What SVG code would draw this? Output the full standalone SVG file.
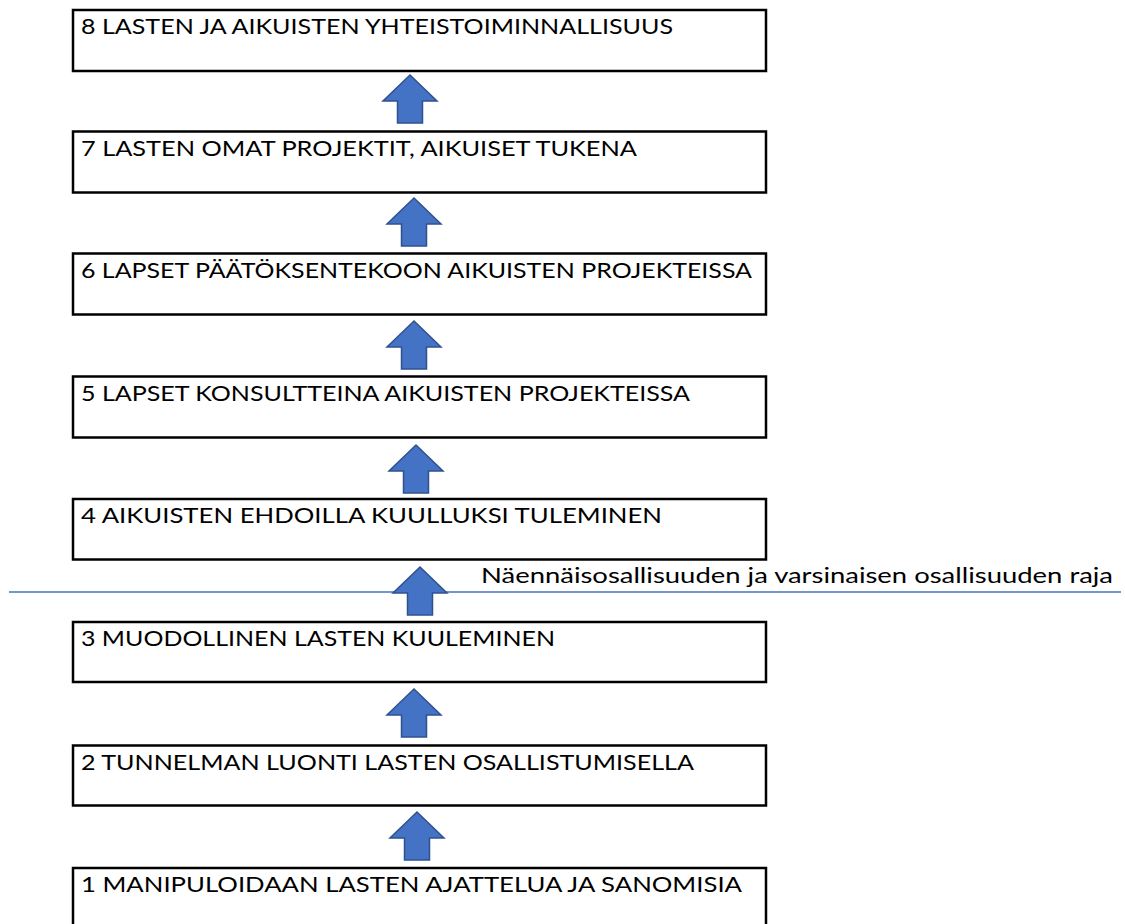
<svg xmlns="http://www.w3.org/2000/svg" width="1125" height="924" viewBox="0 0 1125 924">
<style>
.box{fill:#fff;stroke:#000;stroke-width:2.5}
.t{font-family:Lato,"Open Sans","Liberation Sans",sans-serif;font-size:22px;fill:#000}
.arr{fill:#4472C4;stroke:#2F528F;stroke-width:1.5;stroke-linejoin:miter}
.lim{stroke:#4472C4;stroke-width:1.5;fill:none}
</style>
<defs>
<polygon id="up" points="0,0 27,26 12.5,26 12.5,48 -12.5,48 -12.5,26 -27,26"/>
</defs>
<rect width="1125" height="924" fill="#fff"/>
<g id="node8"><rect class="box" x="73" y="10" width="693" height="61"/><text class="t" x="81" y="34" textLength="592" lengthAdjust="spacingAndGlyphs">8 LASTEN JA AIKUISTEN YHTEISTOIMINNALLISUUS</text></g>
<g id="node7"><rect class="box" x="73" y="131.5" width="693" height="61"/><text class="t" x="81" y="155.5" textLength="556" lengthAdjust="spacingAndGlyphs">7 LASTEN OMAT PROJEKTIT, AIKUISET TUKENA</text></g>
<g id="node6"><rect class="box" x="73" y="253.5" width="693" height="61"/><text class="t" x="81" y="277.5" textLength="671" lengthAdjust="spacingAndGlyphs">6 LAPSET PÄÄTÖKSENTEKOON AIKUISTEN PROJEKTEISSA</text></g>
<g id="node5"><rect class="box" x="73" y="376.5" width="693" height="61"/><text class="t" x="81" y="400.5" textLength="609" lengthAdjust="spacingAndGlyphs">5 LAPSET KONSULTTEINA AIKUISTEN PROJEKTEISSA</text></g>
<g id="node4"><rect class="box" x="73" y="499" width="693" height="60.5"/><text class="t" x="81" y="523" textLength="581" lengthAdjust="spacingAndGlyphs">4 AIKUISTEN EHDOILLA KUULLUKSI TULEMINEN</text></g>
<g id="node3"><rect class="box" x="73" y="622" width="693" height="60"/><text class="t" x="81" y="646" textLength="474" lengthAdjust="spacingAndGlyphs">3 MUODOLLINEN LASTEN KUULEMINEN</text></g>
<g id="node2"><rect class="box" x="73" y="745.5" width="693" height="60"/><text class="t" x="81" y="769.5" textLength="613" lengthAdjust="spacingAndGlyphs">2 TUNNELMAN LUONTI LASTEN OSALLISTUMISELLA</text></g>
<g id="node1"><rect class="box" x="73" y="868" width="693" height="70"/><text class="t" x="81" y="892" textLength="661" lengthAdjust="spacingAndGlyphs">1 MANIPULOIDAAN LASTEN AJATTELUA JA SANOMISIA</text></g>
<g id="boundary"><line class="lim" x1="9" y1="592" x2="1121" y2="592"/><text class="t" x="481" y="583" textLength="632" lengthAdjust="spacingAndGlyphs">Näennäisosallisuuden ja varsinaisen osallisuuden raja</text></g>
<g id="connectors">
<use href="#up" class="arr" x="410" y="75"/>
<use href="#up" class="arr" x="414" y="198"/>
<use href="#up" class="arr" x="414" y="321"/>
<use href="#up" class="arr" x="416" y="445"/>
<use href="#up" class="arr" x="420" y="567"/>
<use href="#up" class="arr" x="414" y="689"/>
<use href="#up" class="arr" x="417" y="812"/>
</g>
</svg>
